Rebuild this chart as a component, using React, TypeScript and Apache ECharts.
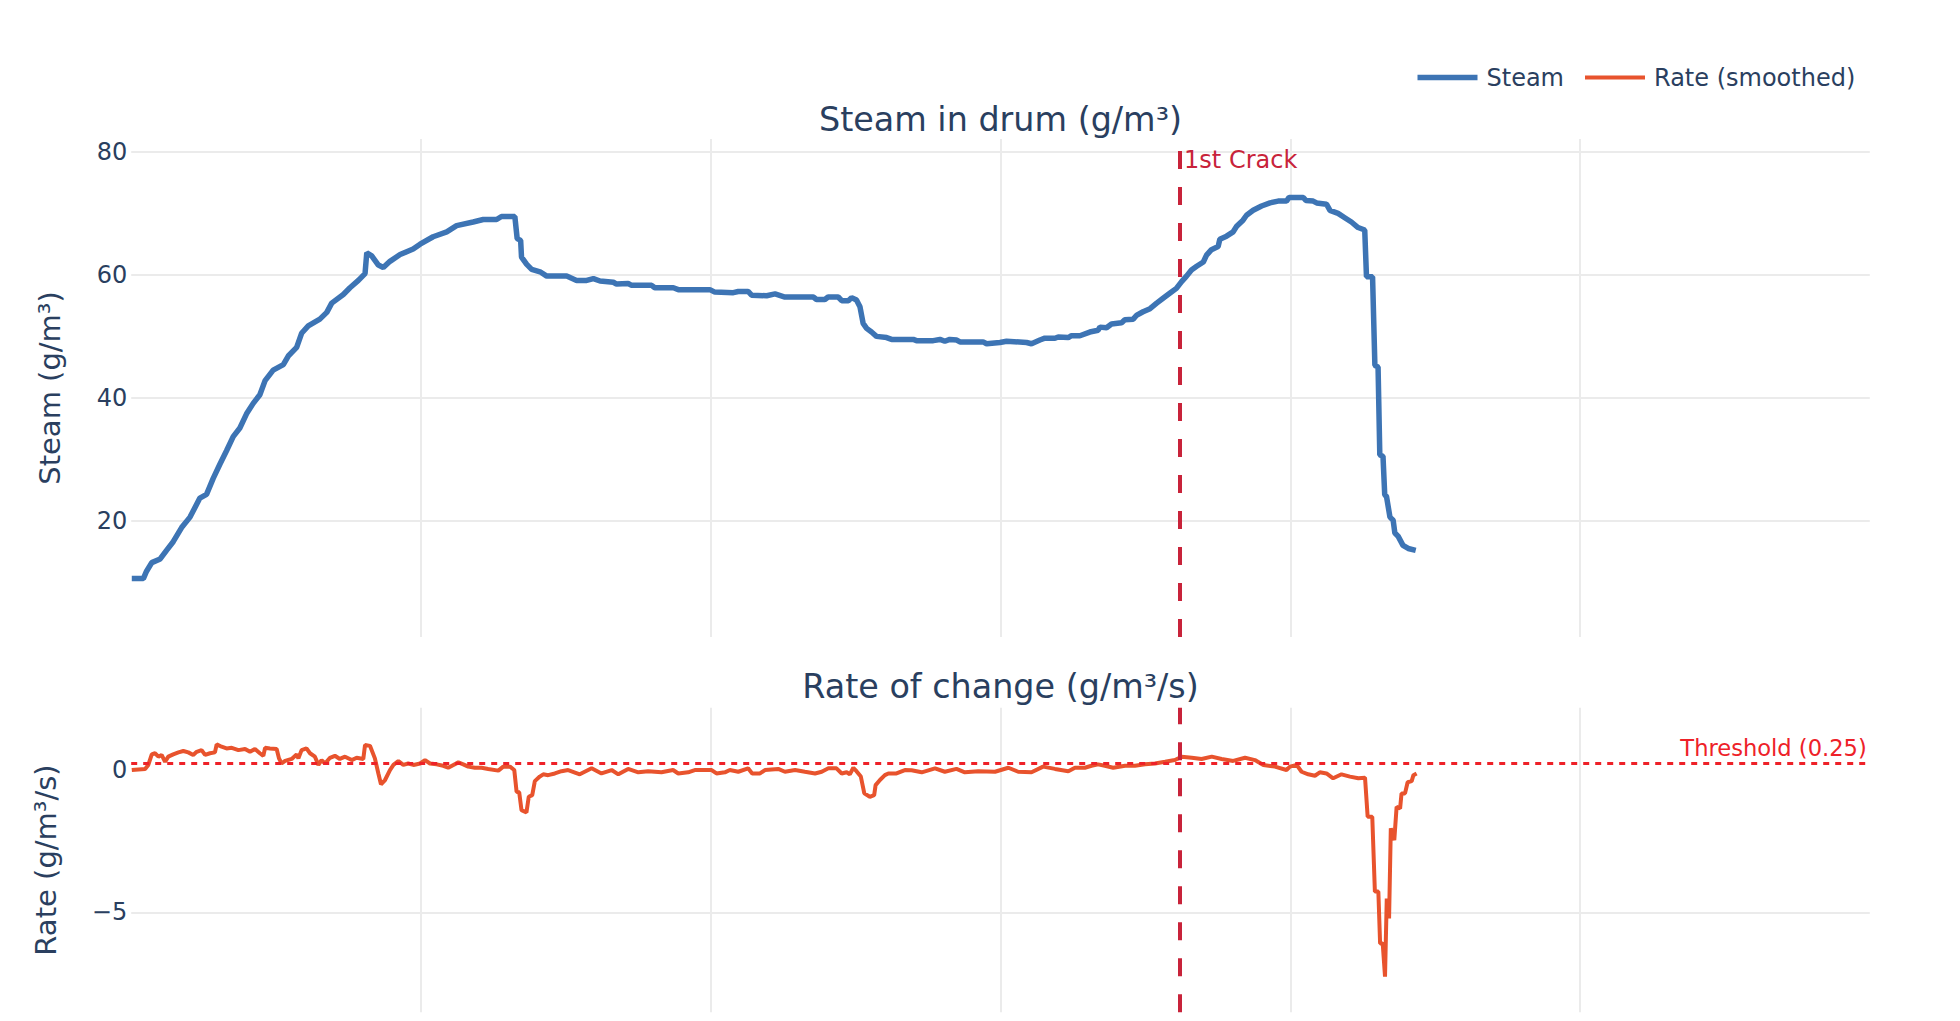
import React, { useEffect, useRef } from "react";
import * as echarts from "echarts";

// ---- data (time in s, steam in g/m³, rate in g/m³/s) ----
const STEAM: [number, number][] = [
  [0.2, 10.6], [4.2, 10.6], [5.3, 11.8], [7.1, 13.2], [10.0, 13.8], [12.2, 15.2], [14.5, 16.6],
  [17.4, 18.9], [20.3, 20.6], [23.7, 23.7], [26.0, 24.3], [28.3, 26.9], [30.6, 29.2], [32.9, 31.4],
  [35.2, 33.7], [37.5, 35.1], [39.8, 37.4], [42.1, 39.1], [44.4, 40.5], [46.2, 42.8], [49.0, 44.5],
  [52.5, 45.4], [54.2, 46.8], [57.1, 48.2], [58.8, 50.5], [61.1, 51.7], [65.1, 52.8], [67.5, 53.9],
  [69.2, 55.4], [73.2, 56.8], [75.5, 57.9], [78.4, 59.1], [80.7, 60.2], [81.3, 63.6], [83.0, 63.1],
  [85.3, 61.6], [87.0, 61.2], [89.3, 62.2], [92.8, 63.3], [97.3, 64.2], [99.7, 65.0], [104.2, 66.2],
  [108.9, 67.0], [112.3, 68.0], [118.0, 68.6], [121.5, 69.0], [126.1, 69.0], [127.8, 69.5],
  [132.4, 69.5], [133.2, 65.9], [134.4, 65.6], [134.7, 62.9], [136.5, 61.7], [138.2, 60.9],
  [141.1, 60.5], [143.4, 59.8], [150.3, 59.8], [153.7, 59.1], [157.2, 59.1], [159.5, 59.4],
  [161.8, 59.0], [166.4, 58.8], [167.5, 58.5], [171.5, 58.6], [172.7, 58.3], [179.6, 58.3],
  [180.7, 57.9], [187.1, 57.9], [188.8, 57.6], [199.7, 57.6], [201.4, 57.2], [207.8, 57.1],
  [209.5, 57.3], [212.9, 57.3], [214.1, 56.7], [219.3, 56.6], [222.2, 56.9], [225.6, 56.4],
  [235.4, 56.4], [236.5, 56.0], [239.4, 56.0], [240.5, 56.4], [244.0, 56.4], [245.2, 55.8],
  [247.5, 55.8], [248.6, 56.3], [250.3, 55.9], [251.5, 54.8], [252.6, 52.1], [253.8, 51.3],
  [255.5, 50.7], [257.2, 50.0], [260.7, 49.8], [262.4, 49.5], [269.9, 49.5], [271.0, 49.3],
  [276.8, 49.3], [279.1, 49.5], [280.8, 49.2], [282.5, 49.5], [284.9, 49.4], [286.0, 49.1],
  [294.0, 49.1], [295.2, 48.8], [299.8, 49.0], [302.1, 49.2], [309.0, 49.0], [310.7, 48.8],
  [313.6, 49.4], [315.3, 49.7], [318.8, 49.7], [319.9, 49.9], [323.4, 49.8], [324.5, 50.1],
  [327.4, 50.1], [330.8, 50.7], [333.7, 51.0], [334.3, 51.5], [336.6, 51.4], [338.3, 52.0],
  [341.8, 52.2], [342.9, 52.7], [345.8, 52.8], [346.9, 53.4], [349.2, 54.0], [351.6, 54.5],
  [353.9, 55.4], [356.1, 56.2], [358.4, 57.0], [360.7, 57.8], [362.5, 58.9], [364.2, 59.8],
  [365.9, 60.8], [367.7, 61.4], [370.0, 62.1], [371.1, 63.2], [372.8, 64.1], [375.1, 64.6],
  [375.7, 65.8], [378.0, 66.3], [380.3, 67.0], [381.5, 67.9], [383.7, 68.9], [384.9, 69.7],
  [387.2, 70.5], [390.1, 71.2], [393.0, 71.7], [395.8, 72.0], [398.7, 72.0], [399.6, 72.6],
  [404.5, 72.6], [405.4, 72.1], [407.9, 72.0], [409.1, 71.7], [412.5, 71.5], [413.7, 70.5],
  [416.5, 70.0], [418.8, 69.3], [421.1, 68.6], [423.4, 67.7], [425.7, 67.3], [426.3, 59.7],
  [428.4, 59.7], [429.2, 45.3], [430.3, 45.0], [430.9, 30.7], [432.0, 30.5], [432.6, 24.2],
  [433.2, 24.0], [434.4, 20.6], [435.5, 20.1], [436.1, 18.0], [437.2, 17.5], [438.9, 16.0],
  [440.7, 15.5], [443.3, 15.2],
];

const RATE: [number, number][] = [
  [0.2, 0], [4.8, 0.04], [5.9, 0.18], [7.1, 0.55], [8.2, 0.59], [9.4, 0.47], [10.5, 0.53],
  [11.7, 0.29], [12.8, 0.47], [14.5, 0.55], [16.3, 0.62], [18.0, 0.67], [19.7, 0.62], [21.4, 0.53],
  [22.6, 0.64], [24.3, 0.7], [25.5, 0.53], [27.2, 0.59], [28.9, 0.62], [29.5, 0.9], [31.2, 0.82],
  [32.9, 0.76], [34.7, 0.78], [37.0, 0.7], [39.3, 0.74], [41.0, 0.64], [42.7, 0.74], [44.4, 0.59],
  [45.6, 0.5], [46.2, 0.78], [47.9, 0.76], [50.2, 0.74], [51.0, 0.41], [51.9, 0.23], [53.1, 0.32],
  [55.4, 0.39], [57.1, 0.55], [57.7, 0.41], [58.8, 0.7], [60.5, 0.76], [61.7, 0.59], [63.4, 0.47],
  [64.6, 0.18], [65.7, 0.35], [66.9, 0.23], [68.6, 0.43], [70.3, 0.5], [72.0, 0.39], [73.8, 0.47],
  [76.1, 0.35], [77.8, 0.43], [80.1, 0.39], [80.7, 0.88], [82.4, 0.85], [84.1, 0.41], [85.3, -0.12],
  [86.2, -0.5], [87.6, -0.35], [89.3, 0.0], [90.5, 0.18], [92.2, 0.32], [93.9, 0.18], [95.6, 0.23],
  [97.4, 0.18], [99.7, 0.23], [101.4, 0.35], [103.1, 0.23], [105.4, 0.2], [107.7, 0.15],
  [109.4, 0.08], [111.2, 0.18], [112.9, 0.27], [114.6, 0.2], [116.3, 0.12], [118.6, 0.08],
  [120.9, 0.08], [123.2, 0.04], [126.7, -0.02], [128.4, 0.12], [130.7, 0.12], [132.2, 0],
  [133.0, -0.76], [133.9, -0.78], [134.7, -1.41], [136.4, -1.49], [137.2, -0.94], [138.4, -0.88],
  [139.3, -0.39], [141.0, -0.23], [142.2, -0.15], [143.9, -0.18], [146.2, -0.12], [148.5, -0.04],
  [150.8, 0], [154.8, -0.15], [158.9, 0.06], [162.3, -0.12], [165.8, 0], [168.1, -0.15],
  [171.5, 0.04], [175.0, -0.08], [178.4, -0.04], [183.0, -0.08], [187.0, 0], [188.8, -0.12],
  [192.2, -0.08], [194.5, 0], [200.3, 0], [202.0, -0.12], [204.9, -0.08], [206.6, 0],
  [209.5, -0.06], [212.9, 0.06], [214.3, -0.12], [217.0, -0.12], [218.7, 0], [223.3, 0.04],
  [225.6, -0.06], [229.1, 0], [232.5, -0.06], [236.0, -0.12], [238.3, -0.06], [240.6, 0.06],
  [243.4, 0.06], [245.2, -0.12], [246.9, -0.08], [248.0, -0.15], [249.2, 0.08], [250.3, -0.04],
  [251.8, -0.23], [253.0, -0.82], [254.9, -0.94], [256.4, -0.88], [256.9, -0.53], [258.4, -0.35],
  [260.1, -0.18], [261.3, -0.12], [264.1, -0.12], [267.0, 0], [269.3, -0.01], [272.8, -0.08],
  [277.4, 0.06], [280.8, -0.06], [284.8, 0.04], [287.7, -0.08], [292.3, -0.04], [298.1, -0.06],
  [302.7, 0.08], [306.1, -0.06], [310.7, -0.08], [314.7, 0.12], [318.8, 0.04], [323.4, -0.04],
  [325.7, 0.08], [329.1, 0.08], [331.4, 0.15], [333.7, 0.2], [336.0, 0.15], [338.9, 0.08],
  [343.0, 0.15], [346.4, 0.15], [349.9, 0.2], [353.3, 0.23], [356.8, 0.29], [360.2, 0.35],
  [362.5, 0.47], [366.0, 0.43], [369.4, 0.39], [372.9, 0.47], [376.3, 0.39], [380.3, 0.32],
  [384.4, 0.43], [387.8, 0.35], [390.7, 0.18], [394.7, 0.12], [398.7, 0], [399.9, 0.12],
  [402.2, 0.18], [403.9, -0.06], [406.2, -0.15], [408.5, -0.2], [410.2, -0.08], [412.5, -0.12],
  [414.8, -0.29], [417.7, -0.15], [420.6, -0.23], [423.5, -0.29], [425.8, -0.27], [426.7, -1.64],
  [428.3, -1.64], [429.2, -4.27], [430.4, -4.27], [431.0, -6.09], [431.9, -6.09], [432.7, -7.26],
  [433.3, -4.51], [434.1, -5.21], [434.7, -2.05], [435.9, -2.46], [436.7, -1.29], [437.9, -1.35],
  [438.4, -0.82], [439.6, -0.82], [440.5, -0.43], [441.9, -0.39], [442.5, -0.18], [443.6, -0.12],
];

const CRACK_T = 361.8;
const THRESHOLD = 0.25;
const X_RANGE = [0, 600];
const X_GRID = [100, 200, 300, 400, 500];
const STEAM_RANGE = [1.1, 82.1];
const STEAM_TICKS = [20, 40, 60, 80];
const STEAM_GRID = [20, 40, 60, 80];
const RATE_RANGE = [-8.51, 2.19];
const RATE_TICKS = [-5, 0];
const RATE_GRID = [-5];

const FONT = "DejaVu Sans";
const TEXT = "#2a3f5f";
const GRID = "#ebebeb";
const STEAM_C = "#3d74b4";
const RATE_C = "#e8532d";
const CRACK_C = "#c8233a";
const THRESH_C = "#ee2128";

const fmt = (v: number) => (v < 0 ? "\u2212" + Math.abs(v) : String(v));

export default function App() {
  const ref = useRef<HTMLDivElement>(null);
  useEffect(() => {
    if (!ref.current) return;
    const chart = echarts.init(ref.current, undefined, { renderer: "svg" });
    const xAxisBase = (gridIndex: number) => ({
      type: "value",
      gridIndex,
      min: X_RANGE[0],
      max: X_RANGE[1],
      interval: 100,
      axisLine: { show: false },
      axisTick: { show: false, customValues: X_GRID },
      axisLabel: { show: false },
      splitLine: { show: true, lineStyle: { color: GRID, width: 2 } },
    });
    const yAxisBase = (gridIndex: number, range: number[], ticks: number[], grid: number[]) => ({
      type: "value",
      gridIndex,
      min: range[0],
      max: range[1],
      axisLine: { show: false },
      axisTick: { show: false, customValues: grid },
      axisLabel: {
        customValues: ticks,
        formatter: fmt,
        fontSize: 24,
        fontFamily: FONT,
        color: TEXT,
        margin: 4,
      },
      splitLine: { show: true, lineStyle: { color: GRID, width: 2 } },
    });
    const crackLine = {
      xAxis: CRACK_T,
      lineStyle: { color: CRACK_C, width: 4, type: [18, 18] },
      label: { show: false },
    };
    const textEl = (text: string, x: number, y: number, size: number, rot = 0) => ({
      type: "text",
      x,
      y,
      rotation: rot,
      silent: true,
      style: {
        text,
        fontSize: size,
        fontFamily: FONT,
        fill: TEXT,
        align: "center",
        verticalAlign: "middle",
        textAlign: "center",
        textVerticalAlign: "middle",
      },
    });
    const legendBase = {
      icon: "rect",
      itemWidth: 60,
      top: 60.5,
      selectedMode: false,
      itemStyle: { borderWidth: 0 },
      textStyle: { fontSize: 24, fontFamily: FONT, color: TEXT, lineHeight: 24, padding: [0, 0, 0, 4] },
    };
    chart.setOption({
      animation: false,
      backgroundColor: "#ffffff",
      textStyle: { fontFamily: FONT },
      legend: [
        { ...legendBase, data: ["Steam"], left: 1412.5, itemHeight: 5.5 },
        { ...legendBase, data: ["Rate (smoothed)"], left: 1580, itemHeight: 4 },
      ],
      grid: [
        { left: 131.2, top: 139, width: 1738.6, height: 498 },
        { left: 131.2, top: 707.7, width: 1738.6, height: 304.6 },
      ],
      xAxis: [xAxisBase(0), xAxisBase(1)],
      yAxis: [
        yAxisBase(0, STEAM_RANGE, STEAM_TICKS, STEAM_GRID),
        yAxisBase(1, RATE_RANGE, RATE_TICKS, RATE_GRID),
      ],
      graphic: [
        textEl("Steam in drum (g/m³)", 1000.5, 119, 33.4),
        textEl("Rate of change (g/m³/s)", 1000.5, 686, 33.4),
        textEl("Steam (g/m³)", 50, 388, 29, Math.PI / 2),
        textEl("Rate (g/m³/s)", 46, 860, 29, Math.PI / 2),
      ],
      series: [
        {
          name: "Steam",
          type: "line",
          xAxisIndex: 0,
          yAxisIndex: 0,
          data: STEAM,
          showSymbol: false,
          symbol: "none",
          color: STEAM_C,
          itemStyle: { color: STEAM_C },
          lineStyle: { color: STEAM_C, width: 5.5 },
          markLine: { silent: true, symbol: ["none", "none"], animation: false, data: [crackLine] },
        },
        {
          name: "Rate (smoothed)",
          type: "line",
          xAxisIndex: 1,
          yAxisIndex: 1,
          data: RATE,
          showSymbol: false,
          symbol: "none",
          color: RATE_C,
          itemStyle: { color: RATE_C },
          lineStyle: { color: RATE_C, width: 4 },
          markLine: {
            silent: true,
            symbol: ["none", "none"],
            animation: false,
            data: [
              {
                yAxis: THRESHOLD,
                lineStyle: { color: THRESH_C, width: 3, type: [6, 6] },
                label: {
                  show: true,
                  position: "insideEndTop",
                  formatter: "Threshold (0.25)",
                  color: THRESH_C,
                  fontSize: 22.6,
                  fontFamily: FONT,
                  distance: 3,
                },
              },
              crackLine,
            ],
          },
        },
        {
          name: "crackLabel",
          type: "scatter",
          xAxisIndex: 0,
          yAxisIndex: 0,
          data: [[CRACK_T, STEAM_RANGE[1]]],
          symbolSize: 1,
          clip: false,
          silent: true,
          itemStyle: { color: "rgba(0,0,0,0)", opacity: 1 },
          label: {
            show: true,
            formatter: "1st Crack",
            position: [5, 9.5],
            align: "left",
            verticalAlign: "top",
            color: CRACK_C,
            opacity: 1,
            fontSize: 24,
            fontFamily: FONT,
          },
        },
      ],
    });
    return () => chart.dispose();
  }, []);
  return (
    <div
      ref={ref}
      style={{ position: "fixed", left: 0, top: 0, width: 1960, height: 1021, background: "#fff" }}
    />
  );
}
